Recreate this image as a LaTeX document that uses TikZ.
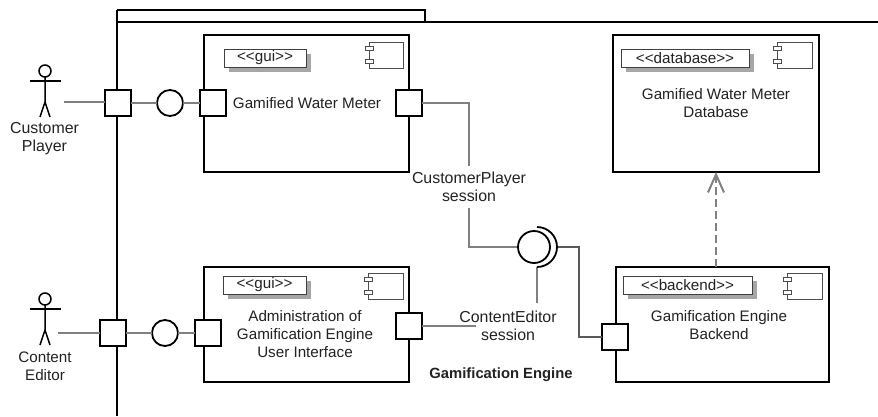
\documentclass[tikz,border=0pt]{standalone}
\usepackage{fontspec}
\setmainfont{Liberation Sans}
\usetikzlibrary{arrows.meta,shadows}
\definecolor{txt}{HTML}{222222}
\definecolor{conn}{HTML}{808080}
\tikzset{
  x=1pt,y=-1pt,
  every node/.style={inner sep=0pt,outer sep=0pt,text=txt,font=\fontsize{15.2}{17.7}\selectfont,align=center},
  wide label/.style={font=\fontsize{15.9}{17.7}\selectfont},
  frameline/.style={draw=black,line width=2pt},
  comp/.style={draw=black,fill=white,line width=2pt},
  portbox/.style={draw=black,fill=white,line width=2pt},
  iface/.style={circle,draw=black,fill=white,line width=1.8pt,minimum size=26pt},
  stereo/.style={draw=black!75,fill=white,line width=1pt,font=\fontsize{15.2}{17}\selectfont,
    general shadow={shadow xshift=5pt,shadow yshift=-5pt,fill=black!35}},
  iconbody/.style={draw=black!70,fill=white,line width=1pt},
  iconpin/.style={draw=black!70,fill=white,line width=1pt},
  wire/.style={draw=conn,line width=2pt,line join=miter},
  thin wire/.style={draw=black!65,line width=1.5pt},
  dep/.style={draw=black!50,line width=2pt,dash pattern=on 8pt off 4pt},
  actorline/.style={draw=black,line width=1.5pt},
}
\newcommand{\bx}[6]{\node[#1,minimum width={(#5)-(#3)},minimum height={(#6)-(#4)}] (#2) at ({((#3)+(#5))/2},{((#4)+(#6))/2}) {};}
\newcommand{\compicon}[4]{%
  \bx{iconbody}{#1b}{#2}{#3}{#4}{#3+26}
  \bx{iconpin}{#1p}{#2-4}{#3+4}{#2+4}{#3+8}
  \bx{iconpin}{#1q}{#2-4}{#3+17}{#2+4}{#3+21}}
\newcommand{\actor}[2]{%
  \draw[actorline] (#1,#2) circle[radius=6pt];
  \draw[actorline] (#1-15.5,#2+10) -- (#1+15.5,#2+10);
  \draw[actorline] (#1,#2+6) -- (#1,#2+31) -- (#1-5,#2+46);
  \draw[actorline] (#1,#2+31) -- (#1+5,#2+46);}
\begin{document}
\begin{tikzpicture}
\useasboundingbox (0,0) rectangle (878,416);
% frame
\coordinate (ftl) at (117,22);
\coordinate (ftr) at (878,22);
\coordinate (fb) at (117,416);
\coordinate (tabl) at (117,10);
\coordinate (tabr) at (425,10);
\coordinate (tabe) at (425,22);
\draw[frameline] (tabl) -- (tabr) -- (tabe);
\draw[frameline] (ftr) -- (ftl);
\draw[frameline] (tabl) -- (fb);
% components
\bx{comp}{gwm}{204}{35}{409}{172}
\bx{comp}{adm}{204}{267}{409}{382}
\bx{comp}{db}{613}{35}{819}{172}
\bx{comp}{be}{616}{267}{829}{382}
% stereotypes
\node[stereo,minimum width=82pt,minimum height=18pt] (s1) at (265,58) {\raisebox{1pt}{<{}<gui>{}>}};
\node[stereo,minimum width=83pt,minimum height=18pt] (s2) at (264.5,285) {\raisebox{1pt}{<{}<gui>{}>}};
\node[stereo,minimum width=128pt,minimum height=18pt] (s3) at (685,58) {\raisebox{1pt}{<{}<database>{}>}};
\node[stereo,minimum width=129pt,minimum height=18pt] (s4) at (687.5,285) {\raisebox{1pt}{<{}<backend>{}>}};
% icons
\compicon{i1}{369}{42}{403}
\compicon{i2}{368}{273}{403}
\compicon{i3}{777}{42}{812}
\compicon{i4}{787}{273}{822}
% component names
\node (n1) at (307,103) {Gamified Water Meter};
\node (n2) at (305,334) {Administration of\\Gamification Engine\\User Interface};
\node (n3) at (716,103) {Gamified Water Meter\\Database};
\node (n4) at (719,325) {Gamification Engine\\Backend};
% actors
\actor{45}{71}
\actor{45}{299}
\node[wide label] (a1) at (44.5,138.5) {Customer\\Player};
\node (a2) at (45,366.5) {Content\\Editor};
\coordinate (a1c) at (64,102);
\coordinate (a2c) at (58,333);
% connection points
\coordinate (cee) at (476,326);
\coordinate (sk) at (518,247);
\coordinate (skr) at (557,247);
\coordinate (skb) at (537,267);
\coordinate (skl) at (537,303);
\coordinate (skt) at (537,227);
\coordinate (skk) at (579,247);
% wires and labels
\node[iface] (c1) at (170,103) {};
\node[iface] (c2) at (165,333) {};
\bx{portbox}{po1}{105}{90}{131}{116}
\bx{portbox}{pi1}{200}{90}{226}{116}
\bx{portbox}{pr1}{396}{90}{422}{116}
\bx{portbox}{po2}{100}{320}{126}{346}
\bx{portbox}{pi2}{195}{320}{221}{346}
\bx{portbox}{pr2}{396}{313}{422}{339}
\bx{portbox}{pb}{602}{324}{628}{350}
\node[wide label,minimum height=42pt] (cpl) at (469,186.5) {CustomerPlayer\\session};
\node[wide label] (cel) at (508,326) {ContentEditor\\session};
\node[font=\fontsize{14.8}{17}\selectfont\bfseries] (sys) at (501,375) {Gamification Engine};
\draw[wire] (a1c) -- (a1c -| po1.west);
\draw[wire] (po1) -- (c1);
\draw[wire] (c1) -- (pi1);
\draw[wire] (a2c) -- (po2.west);
\draw[wire] (po2) -- (c2);
\draw[wire] (c2) -- (pi2);
\draw[wire] (pr1.east) -| (cpl.north);
\draw[wire] (cpl.south) |- (sk);
\draw[wire] (pr2.east) -- (cee);
\draw[thin wire] (skr) -- (skk) |- (pb.west);
\draw[wire] (skb) -- (skl);
\draw[dep,{Straight Barb[length=18pt,width=16pt,line width=2pt]}-] (db.south) -- (db.south |- be.north);
% socket
\node[iface,minimum size=32pt] (ball) at (534,247) {};
\draw[draw=black,line width=1.8pt] (skt) arc[start angle=90,end angle=-90,radius=20pt];
\end{tikzpicture}
\end{document}
